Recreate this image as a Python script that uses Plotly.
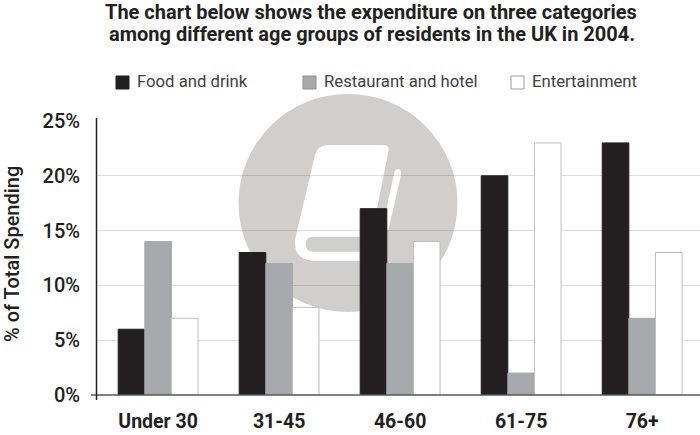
import plotly.graph_objects as go

categories = ["Under 30", "31-45", "46-60", "61-75", "76+"]
food_drink = [6, 13, 17, 20, 23]
restaurant_hotel = [14, 12, 12, 2, 7]
entertainment = [7, 8, 14, 23, 13]
series_names = ["Food and drink", "Restaurant and hotel", "Entertainment"]
y_ticks = [0, 5, 10, 15, 20, 25]
y_labels = ["0%", "5%", "10%", "15%", "20%", "25%"]

W, H = 700, 435
L, R, T, B = 97, 0, 121, 40
BLACK, GREY, EDGE = "#231f20", "#a7a9ac", "#bdbdbd"
FONT = "Roboto"


def px(x):
    return (x - L) / (W - L - R)


def py(y):
    return (H - B - y) / (H - T - B)


def path(cmds):
    out = []
    for c in cmds:
        if c[0] == "Z":
            out.append("Z")
        else:
            vals = []
            for i in range(0, len(c[1]), 2):
                vals.append(f"{px(c[1][i]):.5f},{py(c[1][i + 1]):.5f}")
            out.append(c[0] + " ".join(vals))
    return "".join(out)


def z(a, b):
    return (220 + a / 3, 90 + b / 3)


def zp(*pts):
    r = []
    for a, b in pts:
        r.extend(z(a, b))
    return r


fig = go.Figure()
for name, vals, col, line in [
    (series_names[0], food_drink, BLACK, BLACK),
    (series_names[1], restaurant_hotel, GREY, GREY),
    (series_names[2], entertainment, "#ffffff", EDGE),
]:
    fig.add_bar(x=categories, y=vals, name=name, marker=dict(color=col, line=dict(color=line, width=1)),
                showlegend=False)

shapes = []
# watermark disc
shapes.append(dict(type="circle", xref="paper", yref="paper", layer="below",
                   x0=px(238.5), x1=px(457.5), y0=py(312), y1=py(94),
                   fillcolor="#d0cfce", line_width=0))
# book cover
book = path([
    ("M", zp((320, 165))), ("L", zp((490, 165))), ("Q", zp((510, 165), (505, 185))),
    ("L", zp((440, 512))), ("L", zp((275, 512))), ("Q", zp((215, 505), (227, 440))),
    ("L", zp((285, 195))), ("Q", zp((292, 167), (320, 165))), ("Z",),
])
shapes.append(dict(type="path", xref="paper", yref="paper", layer="below", path=book,
                   fillcolor="#ffffff", line_width=0))
# book bottom band
band = path([
    ("M", zp((280, 440))), ("L", zp((440, 440))), ("L", zp((440, 485))), ("L", zp((280, 485))),
    ("Q", zp((257, 485), (257, 462))), ("Q", zp((257, 440), (280, 440))), ("Z",),
])
shapes.append(dict(type="path", xref="paper", yref="paper", layer="below", path=band,
                   fillcolor="#d0cfce", line_width=0))
# page stripe
stripe = path([
    ("M", zp((524, 243))), ("Q", zp((532, 232), (541, 240))), ("Q", zp((546, 246), (543, 256))),
    ("L", zp((505, 420))), ("L", zp((485, 420))), ("Z",),
])
shapes.append(dict(type="path", xref="paper", yref="paper", layer="below", path=stripe,
                   fillcolor="#ffffff", line_width=0))
# axis lines
shapes.append(dict(type="line", xref="paper", yref="paper", x0=px(91), x1=px(700), y0=py(395), y1=py(395),
                   line=dict(color="#58595b", width=1.5)))
shapes.append(dict(type="line", xref="paper", yref="paper", x0=px(96.5), x1=px(96.5), y0=py(400), y1=py(118),
                   line=dict(color="#231f20", width=1.5)))
# legend swatches
annotations = []
for x0, col, line, name in [(116, BLACK, BLACK, series_names[0]), (303, GREY, "#8f9194", series_names[1]),
                            (511, "#ffffff", "#9a9a9a", series_names[2])]:
    shapes.append(dict(type="rect", xref="paper", yref="paper", x0=px(x0), x1=px(x0 + 13), y0=py(89), y1=py(76),
                       fillcolor=col, line=dict(color=line, width=1)))
    annotations.append(dict(xref="paper", yref="paper", x=px(x0 + 18.5), y=py(81.5), text=name, showarrow=False,
                            xanchor="left", yanchor="middle",
                            font=dict(family=FONT, size=16.7, color="#414042")))
# title
annotations.append(dict(xref="paper", yref="paper", x=px(370.5), y=py(11.5),
                        text="The chart below shows the expenditure on three categories", showarrow=False,
                        xanchor="center", yanchor="middle", font=dict(family=FONT, size=20, color="#231f20", weight=700)))
annotations.append(dict(xref="paper", yref="paper", x=px(372), y=py(33.5),
                        text="among different age groups of residents in the UK in 2004.", showarrow=False,
                        xanchor="center", yanchor="middle", font=dict(family=FONT, size=20, color="#231f20", weight=700)))
# y axis title
annotations.append(dict(xref="paper", yref="paper", x=px(12), y=py(254), text="% of Total Spending",
                        showarrow=False, textangle=-90, xanchor="center", yanchor="middle",
                        font=dict(family=FONT, size=20, color="#231f20", weight=500)))

fig.update_layout(
    width=W, height=H, margin=dict(l=L, r=R, t=T, b=B, pad=0), autosize=False,
    paper_bgcolor="#ffffff", plot_bgcolor="rgba(0,0,0,0)",
    barmode="group", bargap=0.34, bargroupgap=0, showlegend=False,
    shapes=shapes, annotations=annotations,
    font=dict(family=FONT),
    xaxis=dict(type="category", categoryorder="array", categoryarray=categories, range=[-0.505, 4.478],
               showgrid=False, showline=False, ticks="", zeroline=False, ticklabelstandoff=12,
               tickfont=dict(family=FONT, size=19.5, color="#231f20", weight=700)),
    yaxis=dict(range=[0, 25], tickvals=y_ticks, ticktext=y_labels, showline=False, ticks="",
               zeroline=False, showgrid=True, gridcolor="rgba(0,0,0,0.13)", gridwidth=1,
               ticklabelstandoff=16,
               tickfont=dict(family=FONT, size=20, color="#231f20", weight=500)),
)
fig.write_html("out.html", post_script="document.body.style.margin='0';", config={"displayModeBar": False})
